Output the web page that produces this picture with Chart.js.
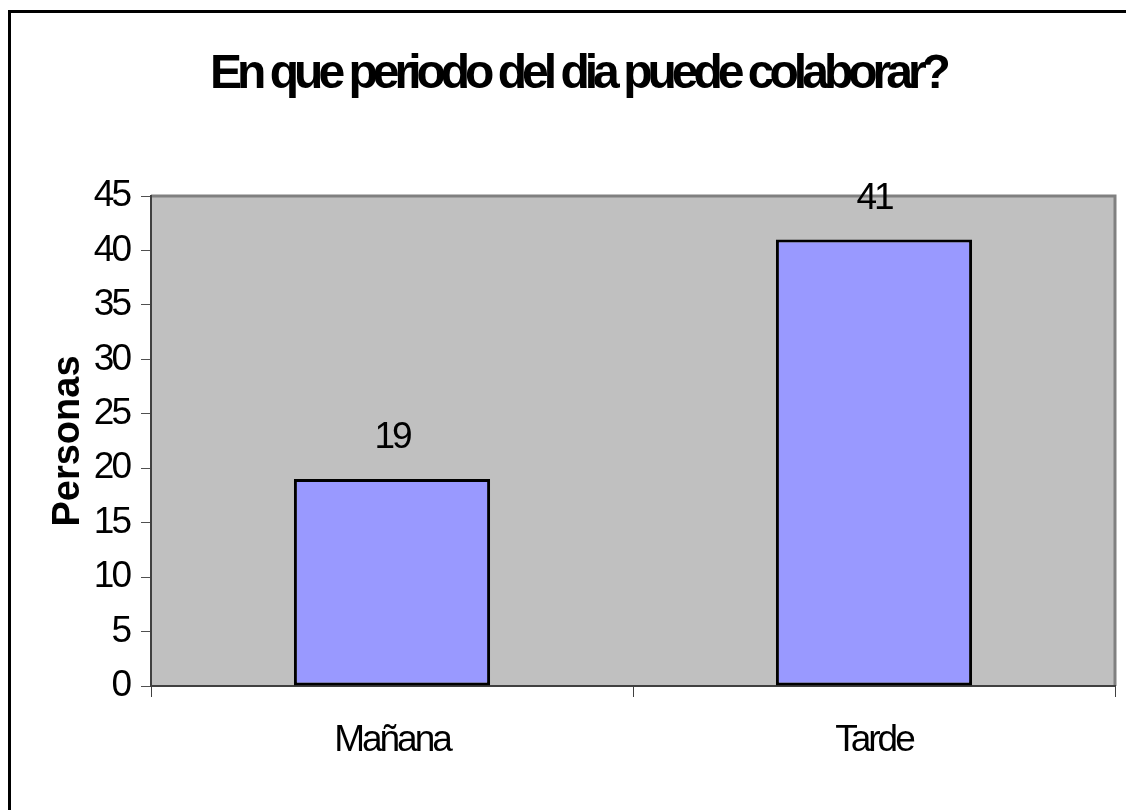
<!DOCTYPE html>
<html>
<head>
<meta charset="utf-8">
<title>En que periodo del dia puede colaborar?</title>
<script src="https://cdn.jsdelivr.net/npm/chart.js@4.4.1/dist/chart.umd.min.js"></script>
<style>
  html, body { margin: 0; padding: 0; background: #fff; }
  #wrap { position: relative; width: 1126px; height: 810px; overflow: hidden; }
  #frame {
    position: absolute; left: 8px; top: 10px; right: 0; bottom: 0;
    border-top: 3px solid #000; border-left: 3px solid #000;
    pointer-events: none;
  }
</style>
</head>
<body>
<div id="wrap">
  <canvas id="chart" width="1126" height="810"></canvas>
  <div id="frame"></div>
</div>
<script>
const categories = ['Mañana', 'Tarde'];
const personas = [19, 41];
const chartTitle = 'En que periodo del dia puede colaborar?';
const yTitle = 'Personas';
const yMax = 45;
const yStep = 5;

const fontFamily = "'Liberation Sans', Arial, sans-serif";
Chart.defaults.font.family = fontFamily;
Chart.defaults.color = '#000';

// grey plot area, title, axis title and value labels
const chartDecor = {
  id: 'chartDecor',
  beforeDraw(chart) {
    const { ctx, chartArea: a } = chart;
    ctx.save();
    ctx.fillStyle = '#c0c0c0';
    ctx.fillRect(a.left, a.top, a.right - a.left, a.bottom - a.top);
    ctx.strokeStyle = '#808080';
    ctx.lineWidth = 3;
    ctx.beginPath();
    ctx.moveTo(a.left, a.top);
    ctx.lineTo(a.right, a.top);
    ctx.lineTo(a.right, a.bottom);
    ctx.stroke();
    ctx.restore();
    // tick labels are drawn tight
    ctx.letterSpacing = '-3px';
  },
  afterDatasetsDraw(chart) {
    const ctx = chart.ctx;
    const meta = chart.getDatasetMeta(0);
    ctx.save();
    ctx.font = '37px ' + fontFamily;
    ctx.letterSpacing = '-3px';
    ctx.fillStyle = '#000';
    ctx.textAlign = 'center';
    ctx.textBaseline = 'alphabetic';
    meta.data.forEach((bar, i) => {
      ctx.fillText(String(personas[i]), bar.x, bar.y - 31);
    });
    ctx.restore();
  },
  afterDraw(chart) {
    const ctx = chart.ctx;
    ctx.save();
    ctx.fillStyle = '#000';
    ctx.textAlign = 'center';
    ctx.textBaseline = 'alphabetic';
    ctx.font = 'bold 48px ' + fontFamily;
    ctx.letterSpacing = '-5px';
    ctx.fillText(chartTitle, 578, 88);

    ctx.font = 'bold 38px ' + fontFamily;
    ctx.letterSpacing = '0px';
    const a = chart.chartArea;
    ctx.translate(79, (a.top + a.bottom) / 2);
    ctx.rotate(-Math.PI / 2);
    ctx.fillText(yTitle, 0, 0);
    ctx.restore();
  }
};

const ctx = document.getElementById('chart').getContext('2d');
const chart = new Chart(ctx, {
  type: 'bar',
  data: {
    labels: categories,
    datasets: [{
      data: personas,
      backgroundColor: '#9999ff',
      borderColor: '#000',
      borderWidth: 3,
      borderSkipped: false,
      categoryPercentage: 1,
      barPercentage: 0.407
    }]
  },
  options: {
    responsive: false,
    animation: false,
    devicePixelRatio: 1,
    layout: { padding: { top: 196, right: 11, left: 0, bottom: 0 } },
    plugins: {
      legend: { display: false },
      title: { display: false },
      tooltip: { enabled: false }
    },
    scales: {
      x: {
        grid: { drawOnChartArea: false, drawTicks: true, tickLength: 11, color: '#404040', lineWidth: 1 },
        border: { display: true, color: '#404040', width: 2 },
        ticks: { font: { size: 37 }, color: '#000', padding: 22 },
        afterFit(scale) { scale.height = 124; }
      },
      y: {
        min: 0,
        max: yMax,
        ticks: { stepSize: yStep, font: { size: 37 }, color: '#000', padding: 12 },
        grid: { drawOnChartArea: false, drawTicks: true, tickLength: 10, color: '#505050', lineWidth: 1 },
        border: { display: true, color: '#404040', width: 2 },
        afterFit(scale) { scale.width = 151; }
      }
    }
  },
  plugins: [chartDecor]
});
</script>
</body>
</html>
